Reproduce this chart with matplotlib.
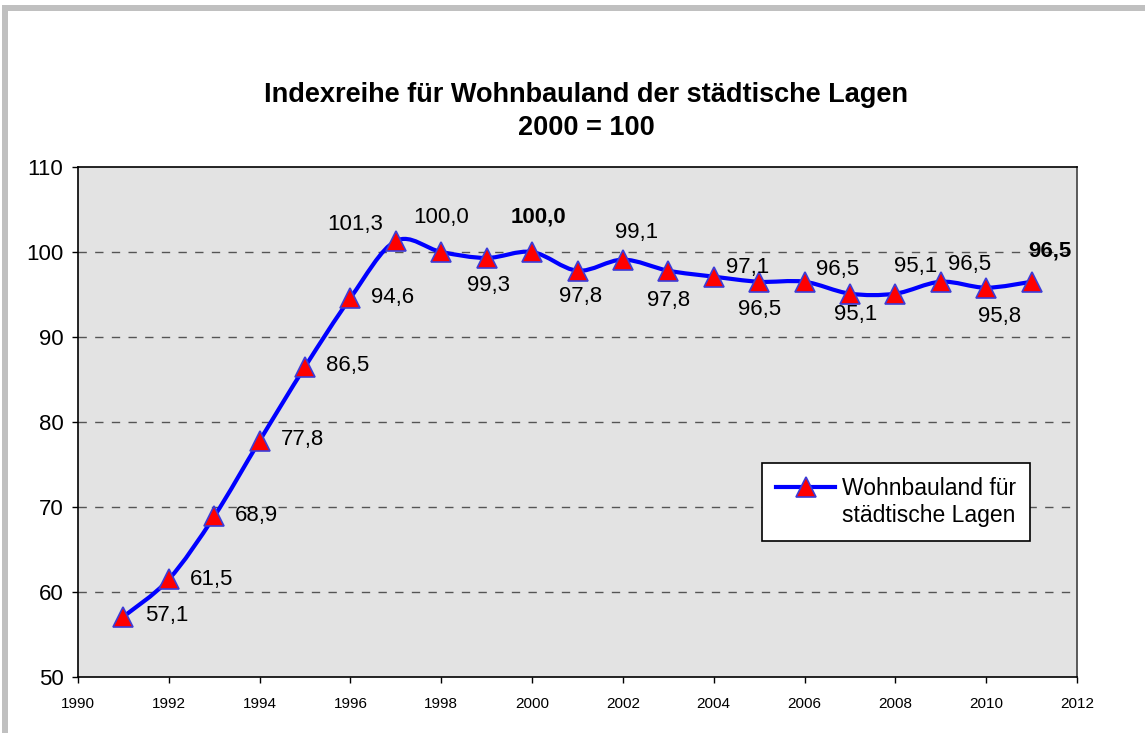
import matplotlib
matplotlib.use("Agg")
import matplotlib.pyplot as plt
import numpy as np
from matplotlib.path import Path
from matplotlib.patches import PathPatch, Rectangle
from matplotlib.lines import Line2D

plt.rcParams['font.family'] = ['Liberation Sans', 'DejaVu Sans']

# ---- data ----
years = [1991, 1992, 1993, 1994, 1995, 1996, 1997, 1998, 1999, 2000,
         2001, 2002, 2003, 2004, 2005, 2006, 2007, 2008, 2009, 2010, 2011]
values = [57.1, 61.5, 68.9, 77.8, 86.5, 94.6, 101.3, 100.0, 99.3, 100.0,
          97.8, 99.1, 97.8, 97.1, 96.5, 96.5, 95.1, 95.1, 96.5, 95.8, 96.5]
labels = ["57,1", "61,5", "68,9", "77,8", "86,5", "94,6", "101,3", "100,0", "99,3", "100,0",
          "97,8", "99,1", "97,8", "97,1", "96,5", "96,5", "95,1", "95,1", "96,5", "95,8", "96,5"]
bold_labels = [2000, 2011]
x_ticks = list(range(1990, 2013, 2))
y_ticks = list(range(50, 111, 10))
title1 = "Indexreihe für Wohnbauland der städtische Lagen"
title2 = "2000 = 100"
legend_line1 = "Wohnbauland für"
legend_line2 = "städtische Lagen"

# label offsets in pixels (dx right, dy down) -- layout only
label_offsets_px = [(43, -1), (43, 0), (42, -1), (43, -1), (43, -1), (42, 0), (-41, -16),
                    (0, -34), (2, 28), (6, -35), (3, 26), (14, -27), (0, 30), (34, -9),
                    (0, 28), (33, -12), (6, 21), (20, -27), (29, -17), (13, 29), (18, -31)]

W, H = 1145, 733
fig = plt.figure(figsize=(W / 100, H / 100), dpi=100)
fig.patch.set_facecolor('white')

# gray frame (top and left)
fig.add_artist(Rectangle((2 / W, 1 - 11 / H), 1 - 2 / W, 6 / H, transform=fig.transFigure,
                         facecolor='#c0c0c0', edgecolor='none'))
fig.add_artist(Rectangle((2 / W, 0), 6 / W, 1 - 5 / H, transform=fig.transFigure,
                         facecolor='#c0c0c0', edgecolor='none'))

left, right, top, bottom = 78, 1077, 167, 677
ax = fig.add_axes([left / W, 1 - bottom / H, (right - left) / W, (bottom - top) / H])
ax.set_facecolor('#e3e3e3')
ax.set_xlim(1990, 2012)
ax.set_ylim(50, 110)
ax.set_xticks(x_ticks)
ax.set_yticks(y_ticks)
ax.set_xticklabels([str(t) for t in x_ticks], fontsize=11,
                   family=['Liberation Sans Narrow', 'Liberation Sans'])
ax.set_yticklabels([str(t) for t in y_ticks], fontsize=16)
ax.tick_params(axis='y', direction='out', length=4.5, width=1, pad=6)
ax.tick_params(axis='x', direction='out', length=4.5, width=1, pad=10)

for s in ['left', 'top', 'bottom']:
    ax.spines[s].set_color('black')
    ax.spines[s].set_linewidth(1.2)
ax.spines['right'].set_color('#404040')
ax.spines['right'].set_linewidth(1.2)

# dashed gridlines
for yv in y_ticks[1:-1]:
    ax.axhline(yv, color='#555555', linewidth=1, linestyle=(0, (6, 6)), zorder=1)

# smoothed line (Catmull-Rom Bezier through the data points)
P = np.column_stack([years, values]).astype(float)
n = len(P)
verts = [P[0]]
codes = [Path.MOVETO]
for i in range(n - 1):
    pm = P[max(i - 1, 0)]
    p0 = P[i]
    p1 = P[i + 1]
    p2 = P[min(i + 2, n - 1)]
    c1 = p0 + (p1 - pm) / 6.0
    c2 = p1 - (p2 - p0) / 6.0
    verts += [c1, c2, p1]
    codes += [Path.CURVE4, Path.CURVE4, Path.CURVE4]
path = Path(verts, codes)
ax.add_patch(PathPatch(path, facecolor='none', edgecolor='#0000ff', linewidth=3,
                       zorder=3, capstyle='round', joinstyle='round'))

ax.plot(years, values, linestyle='none', marker='^', markersize=15,
        markerfacecolor='#ff0000', markeredgecolor='#3c3cd8', markeredgewidth=1.2, zorder=4)

for yr, v, lab, (dx, dy) in zip(years, values, labels, label_offsets_px):
    ax.annotate(lab, (yr, v), xytext=(dx * 0.72, -dy * 0.72), textcoords='offset points',
                ha='center', va='center', fontsize=16, color='black',
                fontweight='bold' if yr in bold_labels else 'normal', zorder=5)

# legend (handle aligned with the first text line)
handle = Line2D([], [], color='#0000ff', linewidth=3, marker='^', markersize=15,
                markerfacecolor='#ff0000', markeredgecolor='#3c3cd8', markeredgewidth=1.2)
blank = Line2D([], [], linestyle='none', marker=None)
leg = ax.legend([handle, blank], [legend_line1, legend_line2], loc='upper left',
                bbox_to_anchor=((762 - left) / (right - left), (bottom - 463) / (bottom - top)),
                fontsize=16.5, frameon=True, fancybox=False, framealpha=1, edgecolor='black',
                handlelength=2.6, handletextpad=0.3, borderpad=0.6, borderaxespad=0,
                labelspacing=0.2)
leg.get_frame().set_linewidth(1.2)

fig.text(586 / W, 1 - 95 / H, title1, ha='center', va='center', fontsize=19.5, fontweight='bold')
fig.text(586 / W, 1 - 128 / H, title2, ha='center', va='center', fontsize=19.5, fontweight='bold')

fig.savefig('out.png', dpi=100)
